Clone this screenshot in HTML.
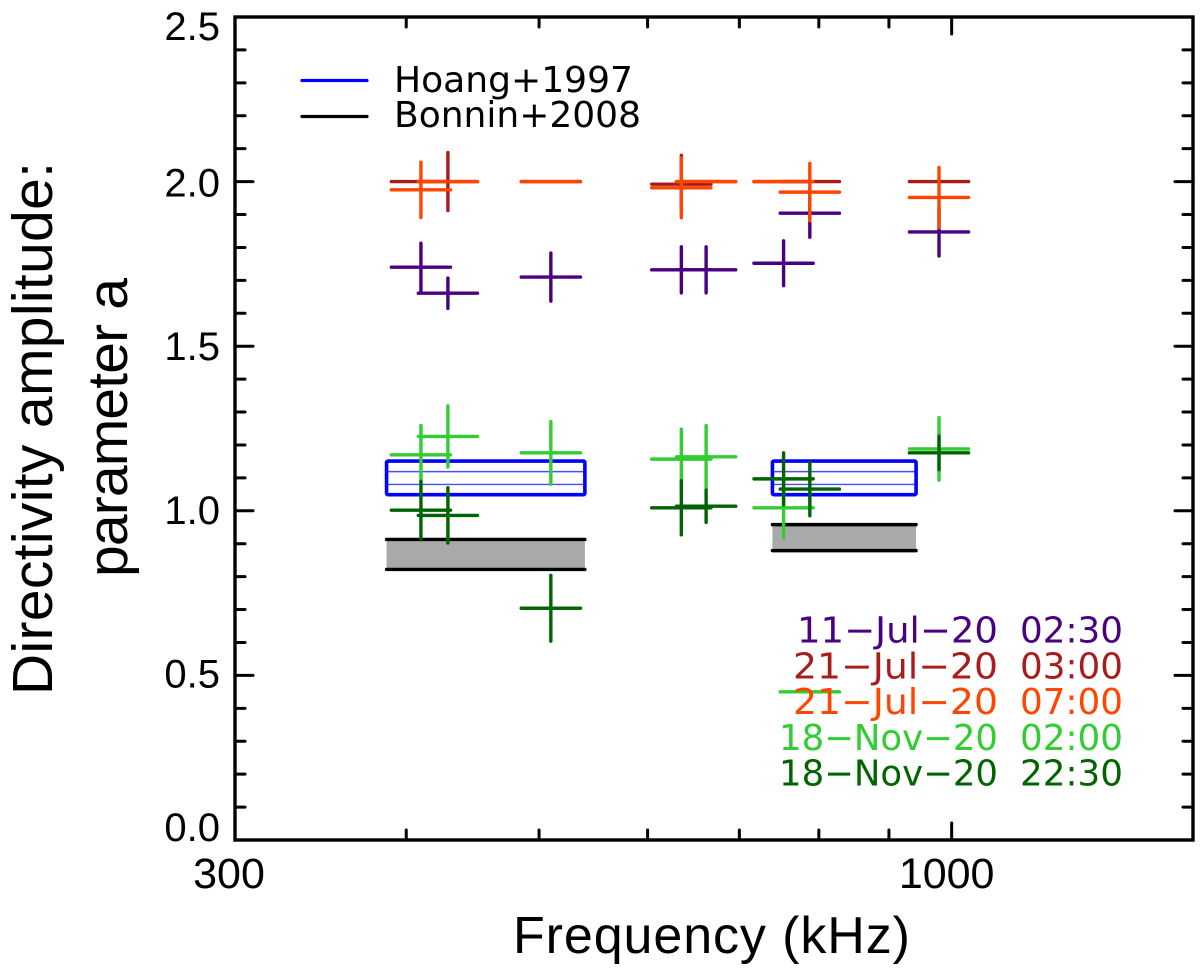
<!DOCTYPE html>
<html lang="en">
<head>
<meta charset="utf-8">
<title>Directivity amplitude vs frequency</title>
<style>
html,body{margin:0;padding:0;background:#fff;width:1200px;height:970px;overflow:hidden}
svg{display:block}
text{font-family:"Liberation Sans",sans-serif;fill:#000}
text.idl{font-family:"DejaVu Sans","Liberation Sans",sans-serif}
</style>
</head>
<body>
<svg id="chart" width="1200" height="970" viewBox="0 0 1200 970" xmlns="http://www.w3.org/2000/svg">
  <rect x="0" y="0" width="1200" height="970" fill="#fff"/>
  <g id="refs"></g>
  <g id="series"></g>
  <g id="axes"></g>

  <g>
    <line x1="302" x2="367" y1="80.5" y2="80.5" stroke="#0000ff" stroke-width="3.2" stroke-linecap="round"/>
    <line x1="302" x2="367" y1="116.5" y2="116.5" stroke="#000" stroke-width="3.2" stroke-linecap="round"/>
    <text class="idl" x="394" y="92" font-size="36" textLength="239" lengthAdjust="spacingAndGlyphs">Hoang+1997</text>
    <text class="idl" x="394" y="127" font-size="36" textLength="247" lengthAdjust="spacingAndGlyphs">Bonnin+2008</text>
  </g>

  <text transform="translate(52,695) rotate(-90)" font-size="57" textLength="533" lengthAdjust="spacing">Directivity amplitude:</text>
  <text transform="translate(127,577) rotate(-90)" font-size="57" textLength="299" lengthAdjust="spacing">parameter a</text>
  <text x="513" y="953" font-size="52" textLength="397" lengthAdjust="spacing">Frequency (kHz)</text>
  <g id="timestamps"></g>
</svg>
<script>
// ---- chart data ----
var frequencies = [410, 429, 510, 635, 662, 754, 788, 979];
var xErrFactor = 1.051;

var seriesNames = ['11-jul-0230', '21-jul-0300', '21-jul-0700', '18-nov-0200', '18-nov-2230'];
var seriesColors = ['#4b0082', '#a81c1c', '#ff4500', '#32cd32', '#006400'];

var valuesJul11a = [1.740, 1.661, 1.710, 1.732, 1.732, 1.752, 1.904, 1.847];
var errorsJul11a = [0.073, 0.046, 0.073, 0.070, 0.070, 0.068, 0.073, 0.073];
var valuesJul21a = [2.000, 2.000, 2.000, 1.992, 2.000, 2.000, 2.000, 2.000];
var errorsJul21a = [0.000, 0.088, 0.000, 0.088, 0.000, 0.000, 0.000, 0.000];
var valuesJul21b = [1.975, 2.000, 2.000, 1.981, 2.000, 2.000, 1.968, 1.952];
var errorsJul21b = [0.084, 0.000, 0.000, 0.091, 0.000, 0.000, 0.087, 0.091];
var valuesNov18a = [1.170, 1.226, 1.176, 1.157, 1.164, 1.009, 0.450, 1.188];
var errorsNov18a = [0.089, 0.093, 0.095, 0.091, 0.095, 0.091, 0.000, 0.095];
var valuesNov18b = [1.002, 0.986, 0.704, 1.009, 1.014, 1.097, 1.066, 1.176];
var errorsNov18b = [0.087, 0.084, 0.100, 0.082, 0.049, 0.079, 0.081, 0.051];

var seriesValues = [valuesJul11a, valuesJul21a, valuesJul21b, valuesNov18a, valuesNov18b];
var seriesErrors = [errorsJul11a, errorsJul21a, errorsJul21b, errorsNov18a, errorsNov18b];

// Reference ranges: [fLow, fHigh, aLow, aHigh]
var hoangBand1 = [387, 540, 1.049, 1.151];
var hoangBand2 = [740, 942, 1.049, 1.151];
var hoangInner = [1.080, 1.119];
var bonninBand1 = [387, 540, 0.822, 0.913];
var bonninBand2 = [740, 942, 0.879, 0.958];

var xMinorTicks = [400, 500, 600, 700, 800, 900];
var xMajorTicks = [1000];
var xTickLabels = ['300', '1000'];
var xTickLabelValues = [300, 1000];
var yTickValues = [0, 0.1, 0.2, 0.3, 0.4, 0.5, 0.6, 0.7, 0.8, 0.9, 1.0, 1.1, 1.2, 1.3, 1.4, 1.5, 1.6, 1.7, 1.8, 1.9, 2.0, 2.1, 2.2, 2.3, 2.4, 2.5];
var yLabelValues = [0, 0.5, 1.0, 1.5, 2.0, 2.5];
var yLabelText = ['0.0', '0.5', '1.0', '1.5', '2.0', '2.5'];

var keyDates = ['11−Jul−20', '21−Jul−20', '21−Jul−20', '18−Nov−20', '18−Nov−20'];
var keyTimes = ['02:30', '03:00', '07:00', '02:00', '22:30'];

// ---- axis functions ----
var plotLeft = 235, plotRight = 1193, plotTop = 17, plotBottom = 840;
var xMin = 300, xMax = 1500, yMin = 0, yMax = 2.5;
function xs(f) {
  return plotLeft + (plotRight - plotLeft) * Math.log(f / xMin) / Math.log(xMax / xMin);
}
function ys(v) {
  return plotBottom - (plotBottom - plotTop) * (v - yMin) / (yMax - yMin);
}

var NS = 'http://www.w3.org/2000/svg';
function make(tag, attrs, parent) {
  var node = document.createElementNS(NS, tag);
  for (var k in attrs) { node.setAttribute(k, attrs[k]); }
  parent.appendChild(node);
  return node;
}
function approx(a, b) { return Math.abs(a - b) < 1e-6; }

var refs = document.getElementById('refs');
var seriesRoot = document.getElementById('series');
var axes = document.getElementById('axes');
var keyRoot = document.getElementById('timestamps');

// ---- reference bands ----
[bonninBand1, bonninBand2].forEach(function (b) {
  var fill = make('rect', {x: xs(b[0]), y: ys(b[3]), width: xs(b[1]) - xs(b[0]), height: ys(b[2]) - ys(b[3]), fill: '#a9a9a9'}, refs);
  
  
  [b[2], b[3]].forEach(function (v) {
    var edge = make('line', {x1: xs(b[0]), x2: xs(b[1]), y1: ys(v), y2: ys(v), stroke: '#000', 'stroke-width': 3.4, 'stroke-linecap': 'round'}, refs);
    
    
  });
});
[hoangBand1, hoangBand2].forEach(function (b) {
  hoangInner.forEach(function (v) {
    var inner = make('line', {x1: xs(b[0]), x2: xs(b[1]), y1: ys(v), y2: ys(v), stroke: '#4a4aff', 'stroke-width': 1.4}, refs);
    
    
  });
  var box = make('rect', {x: xs(b[0]), y: ys(b[3]), width: xs(b[1]) - xs(b[0]), height: ys(b[2]) - ys(b[3]), rx: 1.5, fill: 'none', stroke: '#0000ff', 'stroke-width': 3.6}, refs);
  
  
});

// ---- error-bar crosses ----
seriesNames.forEach(function (name, s) {
  var group = make('g', {stroke: seriesColors[s], 'stroke-width': 3.4, 'stroke-linecap': 'round', fill: 'none'}, seriesRoot);
  
  
  frequencies.forEach(function (f, i) {
    var v = seriesValues[s][i], e = seriesErrors[s][i];
    var h = make('line', {x1: xs(f / xErrFactor), x2: xs(f * xErrFactor), y1: ys(v), y2: ys(v)}, group);
    
    
    if (e > 0) {
      var u = make('line', {x1: xs(f), x2: xs(f), y1: ys(v - e), y2: ys(v + e)}, group);
      
      
    }
  });
});

// ---- axes ----
var frame = make('rect', {x: plotLeft, y: plotTop, width: plotRight - plotLeft, height: plotBottom - plotTop, fill: 'none', stroke: '#000', 'stroke-width': 3.4}, axes);



function xTick(f, len) {
  var bottom = make('line', {x1: xs(f), x2: xs(f), y1: plotBottom, y2: plotBottom - len, stroke: '#000', 'stroke-width': 3, 'stroke-linecap': 'round'}, axes);
  
  
  var top = make('line', {x1: xs(f), x2: xs(f), y1: plotTop, y2: plotTop + len, stroke: '#000', 'stroke-width': 3, 'stroke-linecap': 'round'}, axes);
  
  
}
xMinorTicks.forEach(function (f) { xTick(f, 10); });
xMajorTicks.forEach(function (f) { xTick(f, 17); });

yTickValues.forEach(function (v) {
  if (v <= yMin || v >= yMax) { return; }
  var major = approx(v * 2, Math.round(v * 2));
  var len = major ? 18 : 10;
  var left = make('line', {x1: plotLeft, x2: plotLeft + len, y1: ys(v), y2: ys(v), stroke: '#000', 'stroke-width': 3, 'stroke-linecap': 'round'}, axes);
  
  
  var right = make('line', {x1: plotRight, x2: plotRight - len, y1: ys(v), y2: ys(v), stroke: '#000', 'stroke-width': 3, 'stroke-linecap': 'round'}, axes);
  
  
});

// Baseline drop of the y labels below their tick (the source labels drift).
function yLabelDrop(v) {
  if (v >= 2.5) { return 23; }
  if (v <= 0) { return 1; }
  return 12 + (v - 0.5) * 2;
}
yLabelValues.forEach(function (v, i) {
  var t = make('text', {x: 220, y: ys(v) + yLabelDrop(v), 'font-size': 40, 'text-anchor': 'end'}, axes);
  
  
  t.textContent = yLabelText[i];
});
xTickLabelValues.forEach(function (f, i) {
  var t = make('text', {x: xs(f) - (i === 0 ? 6 : 5), y: 888, 'font-size': 43, 'text-anchor': 'middle'}, axes);
  
  
  t.textContent = xTickLabels[i];
});

// ---- observation key ----
keyDates.forEach(function (d, i) {
  var baseline = 642.5 + i * 35.8;
  var left = d.charAt(0) === '1' && d.charAt(1) === '1' ? 797 : (d.indexOf('Nov') > 0 ? 779 : 793);
  var dateText = make('text', {'class': 'idl', x: left, y: baseline, 'font-size': 36, textLength: 998 - left, lengthAdjust: 'spacingAndGlyphs'}, keyRoot);
  
  
  dateText.style.fill = seriesColors[i];
  dateText.textContent = d;
  var timeText = make('text', {'class': 'idl', x: 1020, y: baseline, 'font-size': 36, textLength: 103, lengthAdjust: 'spacingAndGlyphs'}, keyRoot);
  
  
  timeText.style.fill = seriesColors[i];
  timeText.textContent = keyTimes[i];
});
</script>
</body>
</html>
